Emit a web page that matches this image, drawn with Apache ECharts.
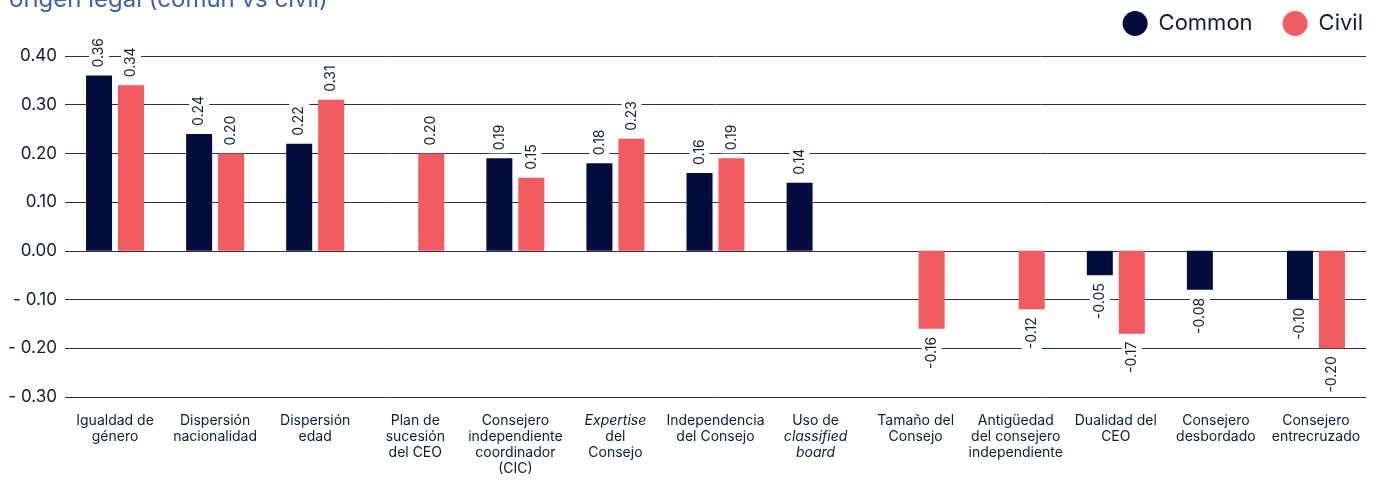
<!DOCTYPE html>
<html><head><meta charset="utf-8">
<script src="https://cdn.jsdelivr.net/npm/echarts@6/dist/echarts.min.js"></script>
<style>html,body{margin:0;padding:0;background:#fff}#c{width:1384px;height:484px}</style>
</head><body><div id="c"></div>
<script>
var categories = [
  'Igualdad de\ngénero','Dispersión\nnacionalidad','Dispersión\nedad','Plan de\nsucesión\ndel CEO',
  'Consejero\nindependiente\ncoordinador\n(CIC)','{i|Expertise}\ndel\nConsejo','Independencia\ndel Consejo',
  'Uso de\n{i|classified}\n{i|board}','Tamaño del\nConsejo','Antigüedad\ndel consejero\nindependiente',
  'Dualidad del\nCEO','Consejero\ndesbordado','Consejero\nentrecruzado'
];
var commonValues = [0.36,0.24,0.22,null,0.19,0.18,0.16,0.14,null,null,-0.05,-0.08,-0.10];
var civilValues  = [0.34,0.20,0.31,0.20,0.15,0.23,0.19,null,-0.16,-0.12,-0.17,null,-0.20];
var yTicks = {min:-0.3, max:0.4, interval:0.1};

var FONT = 'Inter';
var TXT = '#16193a';
function fmtLabel(p){ var v=p.value; if(v==null) return ''; return v<0 ? '-'+Math.abs(v).toFixed(2) : v.toFixed(2); }
function mkData(arr){
  return arr.map(function(v){
    if(v==null) return null;
    return {value:v, label: v<0 ? {position:'bottom', align:'right'} : {position:'top', align:'left'}};
  });
}
var lbl = {show:true, rotate:90, distance:5, verticalAlign:'middle', formatter:fmtLabel,
  fontFamily:FONT, fontSize:14, color:TXT, backgroundColor:'#fff', padding:[3,3,3,3]};
var chart = echarts.init(document.getElementById('c'));
chart.setOption({
  animation:false,
  title:{text:'origen legal (común vs civil)', left:4, top:-17, textStyle:{fontFamily:FONT, fontSize:24, fontWeight:'normal', color:'#3d5fb5'}},
  legend:{right:16, top:6, icon:'circle', itemWidth:25, itemHeight:25, itemGap:30,
    textStyle:{fontFamily:FONT, fontSize:22, color:TXT, padding:[0,0,0,6]}},
  grid:{left:65, right:18, top:56, bottom:87},
  xAxis:{type:'category', data:categories, position:'bottom',
    axisLine:{show:false, onZero:false}, axisTick:{show:false},
    axisLabel:{interval:0, margin:16, fontFamily:FONT, fontSize:14, lineHeight:16, color:TXT,
      rich:{i:{fontStyle:'italic', fontFamily:FONT, fontSize:14, color:TXT, lineHeight:16}}}},
  yAxis:{type:'value', min:yTicks.min, max:yTicks.max, interval:yTicks.interval,
    axisLine:{show:false}, axisTick:{show:false},
    splitLine:{lineStyle:{color:'#27305f', width:1}},
    axisLabel:{margin:8, fontFamily:FONT, fontSize:17, color:TXT,
      formatter:function(v){ return v<0 ? '- '+Math.abs(v).toFixed(2) : v.toFixed(2); }}},
  series:[
    {name:'Common', type:'bar', data:mkData(commonValues), barWidth:26, barGap:'23%', itemStyle:{color:'#020d3e'}, label:lbl},
    {name:'Civil', type:'bar', data:mkData(civilValues), barWidth:26, barGap:'23%', itemStyle:{color:'#f25b5f'}, label:lbl}
  ]
});
</script></body></html>
